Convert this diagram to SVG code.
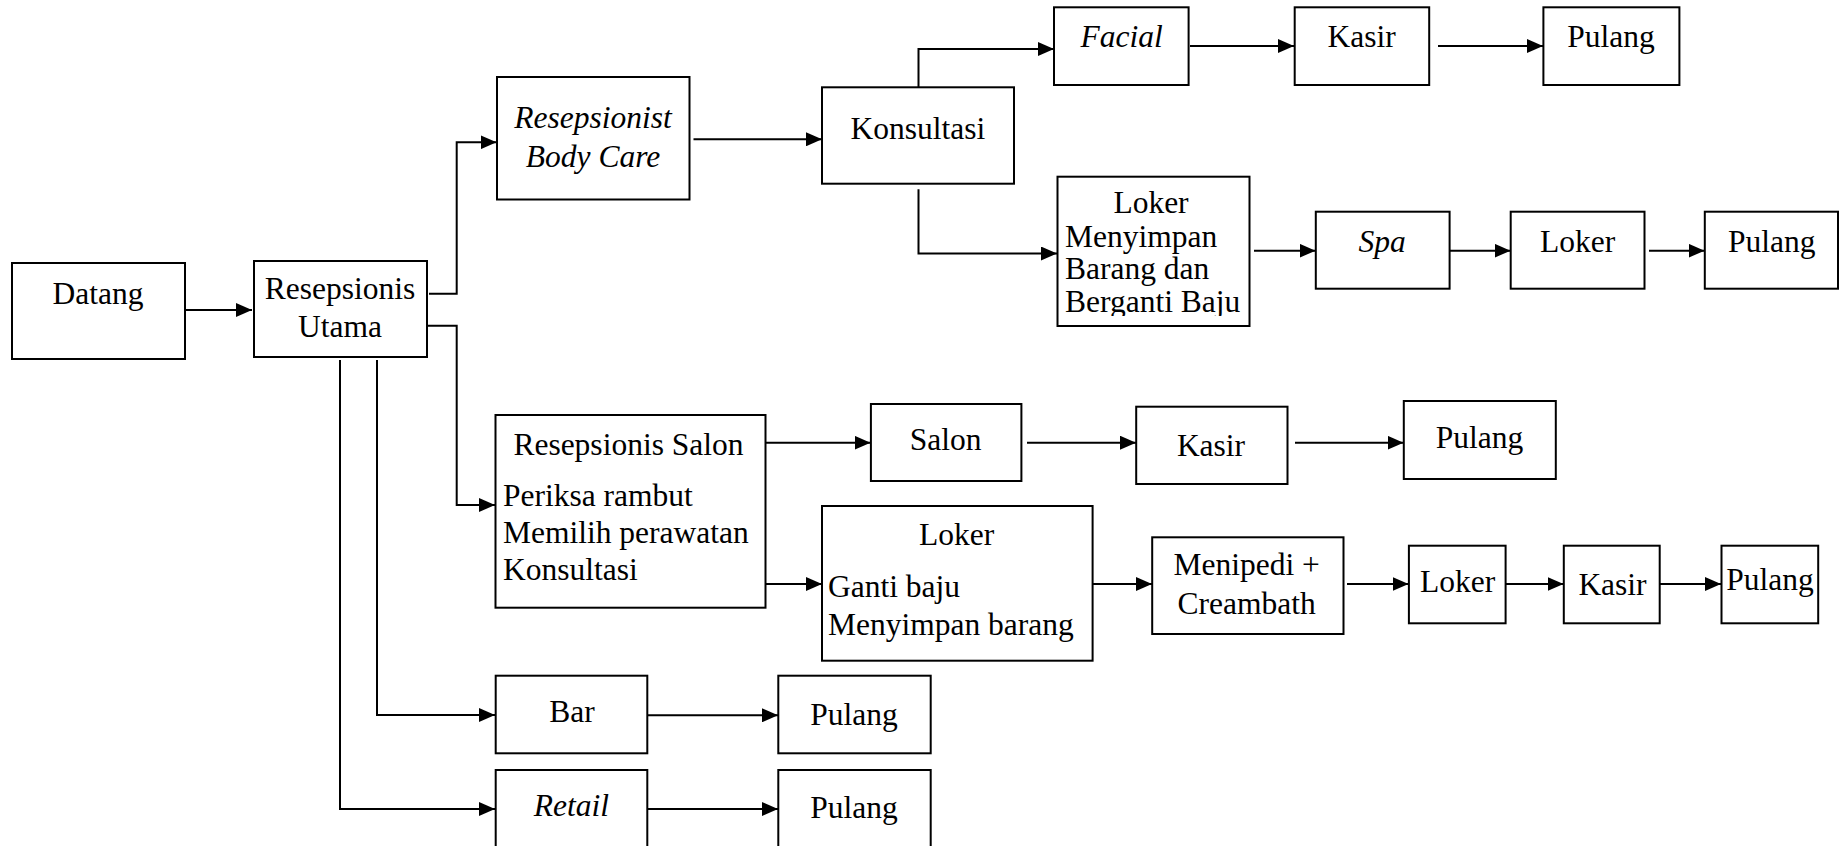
<svg xmlns="http://www.w3.org/2000/svg" width="1840" height="846" viewBox="0 0 1840 846">
<style>
rect.b{fill:#fff;stroke:#000;stroke-width:2}
text{font-family:"Liberation Serif","Times New Roman",serif;font-size:31.5px;fill:#000}
.c{text-anchor:middle}
.i{font-style:italic}
#connectors path{fill:none;stroke:#000;stroke-width:2;marker-end:url(#ah)}
</style>
<defs>
<marker id="ah" markerWidth="16" markerHeight="14" refX="16" refY="7" orient="auto" markerUnits="userSpaceOnUse"><path d="M0,0 L16,7 L0,14 z" fill="#000"/></marker>
<clipPath id="clipLoker"><rect x="1057" y="176" width="193" height="140"/></clipPath>
</defs>
<rect width="1840" height="846" fill="#fff"/>
<g id="connectors">
<path d="M186,310 H252"/>
<path d="M429,293.7 H456.7 V142.3 H496.5"/>
<path d="M428,325.7 H456.7 V505 H495"/>
<path d="M377,360 V715 H495"/>
<path d="M340,360 V809 H495"/>
<path d="M693.5,139.3 H822"/>
<path d="M918.5,87 V49 H1054"/>
<path d="M918.5,189.3 V253.5 H1057"/>
<path d="M1190,46 H1294"/>
<path d="M1438,46 H1543"/>
<path d="M1254,250.7 H1315.5"/>
<path d="M1450,250.7 H1510.5"/>
<path d="M1649,250.7 H1704.5"/>
<path d="M765,442.7 H870.5"/>
<path d="M1027,442.7 H1136"/>
<path d="M1295,442.7 H1403.5"/>
<path d="M765,584 H822"/>
<path d="M1093,584 H1152"/>
<path d="M1347,584 H1408.5"/>
<path d="M1506,584 H1563.5"/>
<path d="M1660,584 H1721"/>
<path d="M647,715.3 H778"/>
<path d="M647,809 H778"/>
</g>
<g id="datang"><rect class="b" x="12" y="263" width="173" height="96"/><text class="c" x="98" y="304">Datang</text></g>
<g id="resepsionis-utama"><rect class="b" x="254" y="261" width="173" height="96"/><text class="c" x="340" y="299">Resepsionis</text><text class="c" x="340" y="337">Utama</text></g>
<g id="resepsionist-body-care"><rect class="b" x="497" y="77" width="192.5" height="122.5"/><text class="c i" x="593" y="128">Resepsionist</text><text class="c i" x="593" y="167">Body Care</text></g>
<g id="konsultasi"><rect class="b" x="822" y="87.3" width="192" height="96.4"/><text class="c" x="918" y="139">Konsultasi</text></g>
<g id="facial"><rect class="b" x="1054" y="7.3" width="134.6" height="77.7"/><text class="c i" x="1121.7" y="46.7">Facial</text></g>
<g id="kasir-1"><rect class="b" x="1294.7" y="7.3" width="134.5" height="77.7"/><text class="c" x="1361.6" y="46.7">Kasir</text></g>
<g id="pulang-1"><rect class="b" x="1543.4" y="7.3" width="136" height="77.7"/><text class="c" x="1611" y="46.7">Pulang</text></g>
<g id="loker-bodycare"><rect class="b" x="1057.5" y="176.7" width="192" height="149.3"/>
<g clip-path="url(#clipLoker)"><text class="c" x="1151" y="213.3">Loker</text><text x="1065" y="247.3">Menyimpan</text><text x="1065" y="279.3">Barang dan</text><text x="1065" y="311.7">Berganti Baju</text></g></g>
<g id="spa"><rect class="b" x="1315.8" y="211.7" width="133.8" height="77"/><text class="c i" x="1382" y="251.7">Spa</text></g>
<g id="loker-2"><rect class="b" x="1510.7" y="211.7" width="133.8" height="77"/><text class="c" x="1577.6" y="251.7">Loker</text></g>
<g id="pulang-2"><rect class="b" x="1704.8" y="211.7" width="133.2" height="77"/><text class="c" x="1771.7" y="251.7">Pulang</text></g>
<g id="resepsionis-salon"><rect class="b" x="495.5" y="415" width="270" height="192.7"/><text x="513.4" y="455">Resepsionis Salon</text><text x="503" y="506">Periksa rambut</text><text x="503" y="543">Memilih perawatan</text><text x="503" y="580">Konsultasi</text></g>
<g id="salon"><rect class="b" x="870.9" y="404" width="150.5" height="77"/><text class="c" x="945.7" y="450">Salon</text></g>
<g id="kasir-3"><rect class="b" x="1136.2" y="406.7" width="151.3" height="77.3"/><text class="c" x="1211" y="456">Kasir</text></g>
<g id="pulang-3"><rect class="b" x="1403.8" y="401" width="152" height="78"/><text class="c" x="1479.4" y="448.3">Pulang</text></g>
<g id="loker-salon"><rect class="b" x="822" y="506" width="270.6" height="154.7"/><text class="c" x="956.7" y="545">Loker</text><text x="828" y="596.7">Ganti baju</text><text x="828" y="635">Menyimpan barang</text></g>
<g id="menipedi"><rect class="b" x="1152.2" y="537.3" width="191.3" height="96.7"/><text class="c" x="1246.7" y="575">Menipedi +</text><text class="c" x="1246.7" y="614">Creambath</text></g>
<g id="loker-4"><rect class="b" x="1408.9" y="545.7" width="96.7" height="77.6"/><text class="c" x="1457.6" y="591.7">Loker</text></g>
<g id="kasir-4"><rect class="b" x="1563.8" y="545.7" width="95.9" height="77.6"/><text class="c" x="1612.5" y="595">Kasir</text></g>
<g id="pulang-4"><rect class="b" x="1721.5" y="545.7" width="96.7" height="77.6"/><text class="c" x="1770" y="590">Pulang</text></g>
<g id="bar"><rect class="b" x="495.7" y="675.7" width="151.6" height="77.6"/><text class="c" x="572" y="721.7">Bar</text></g>
<g id="pulang-5"><rect class="b" x="778.3" y="675.7" width="152.4" height="77.6"/><text class="c" x="854" y="725">Pulang</text></g>
<g id="retail"><rect class="b" x="495.7" y="770" width="151.6" height="90"/><text class="c i" x="571.3" y="816">Retail</text></g>
<g id="pulang-6"><rect class="b" x="778.3" y="770" width="152.4" height="90"/><text class="c" x="854" y="818.3">Pulang</text></g>
</svg>
